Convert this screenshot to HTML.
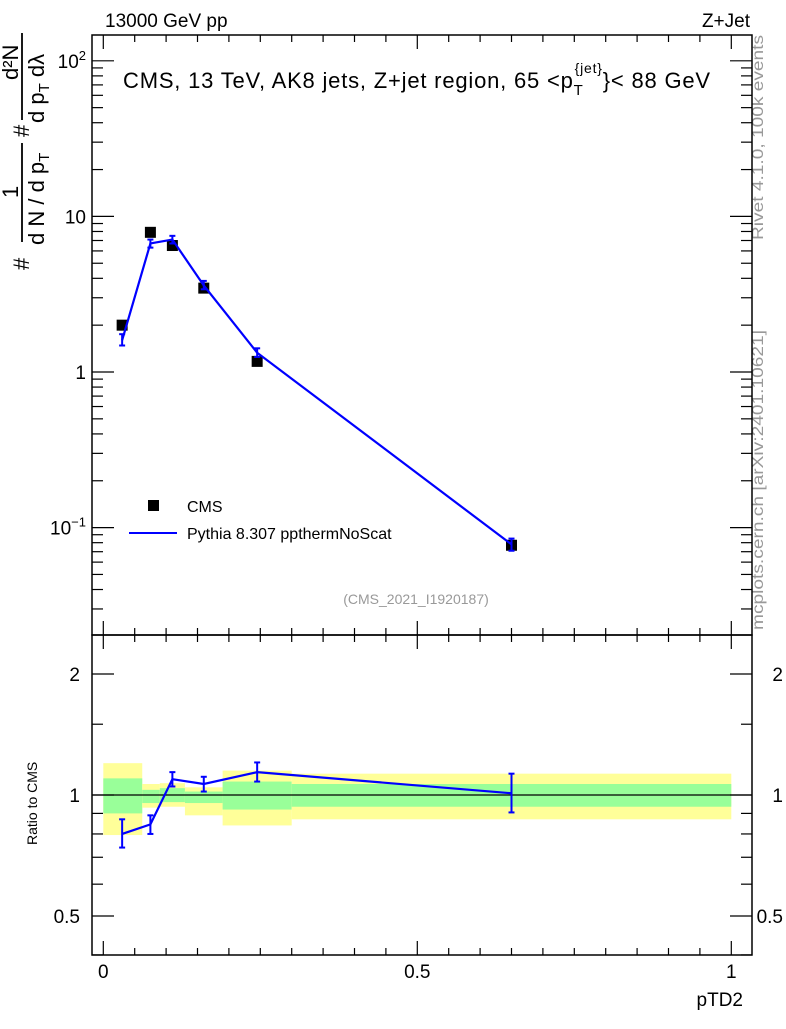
<!DOCTYPE html>
<html><head><meta charset="utf-8"><style>
body{margin:0;background:#fff}
svg{font-family:"Liberation Sans",sans-serif}
</style></head><body>
<svg id="c" width="786" height="1024" viewBox="0 0 786 1024" xmlns="http://www.w3.org/2000/svg">
<text x="105" y="27" font-size="19">13000 GeV pp</text>
<text x="750" y="27" font-size="19" text-anchor="end">Z+Jet</text>
<text x="123" y="88" font-size="22" letter-spacing="0.8">CMS, 13 TeV, AK8 jets, Z+jet region, 65 &lt;p<tspan font-size="15" dy="7">T</tspan><tspan font-size="14" dx="-9" dy="-22">{jet}</tspan><tspan dy="15">}&lt; 88 GeV</tspan></text>
<g font-size="22" transform="translate(0,270) rotate(-90)">
<text x="0" y="29">#</text>
<line x1="28" y1="22" x2="127" y2="22" stroke="#000" stroke-width="1.8"/>
<line x1="150" y1="22" x2="237" y2="22" stroke="#000" stroke-width="1.8"/>
<text x="72" y="18">1</text>
<text x="25" y="44">d N / d p<tspan font-size="15" dy="5">T</tspan></text>
<text x="133" y="29">#</text>
<text x="190" y="18">d²N</text>
<text x="147" y="44">d p<tspan font-size="15" dy="5">T</tspan><tspan dy="-5"> dλ</tspan></text>
</g>
<text transform="translate(763,240) rotate(-90)" font-size="16" fill="#999" textLength="205" lengthAdjust="spacingAndGlyphs">Rivet 4.1.0,  100k events</text>
<text transform="translate(763,630) rotate(-90)" font-size="16" fill="#999" textLength="300" lengthAdjust="spacingAndGlyphs">mcplots.cern.ch [arXiv:2401.10621]</text>
<text x="416" y="604" font-size="14" fill="#999" text-anchor="middle">(CMS_2021_I1920187)</text>
<g id="main"></g>
<g id="ratio"></g>
<g>
<rect x="148" y="500" width="11" height="11"/>
<text x="187" y="512" font-size="16">CMS</text>
<line x1="129" y1="533" x2="177" y2="533" stroke="#00f" stroke-width="2"/>
<text x="187" y="539" font-size="16">Pythia 8.307 ppthermNoScat</text>
</g>
<text transform="translate(37,845) rotate(-90)" font-size="14">Ratio to CMS</text>
<text x="743" y="1006" font-size="19" text-anchor="end">pTD2</text>
</svg>
<script>
const binEdges=[0,0.062,0.09,0.13,0.19,0.30,1.0];
const xPts=[0.03,0.075,0.11,0.16,0.245,0.65];
const cmsVals=[2.0,7.9,6.5,3.46,1.17,0.077];
const pyVals=[1.6,6.7,7.1,3.6,1.33,0.078];
const pyErrLo=[1.48,6.3,6.7,3.4,1.25,0.071];
const pyErrHi=[1.75,7.1,7.5,3.85,1.42,0.085];
const ratioVals=[0.80,0.845,1.095,1.065,1.14,1.01];
const ratioLo=[0.74,0.80,1.05,1.02,1.08,0.905];
const ratioHi=[0.87,0.89,1.14,1.11,1.205,1.13];
const yelLo=[0.795,0.93,0.935,0.89,0.84,0.87];
const yelHi=[1.20,1.065,1.07,1.045,1.15,1.13];
const grnLo=[0.90,0.955,0.96,0.955,0.92,0.935];
const grnHi=[1.10,1.03,1.04,1.02,1.08,1.065];
const xTicks=[0,0.5,1];
const xTickLabels=["0","0.5","1"];
const yDecades=[0.1,1,10,100];
const rTicks=[0.5,1,2];
const rTickLabels=["0.5","1","2"];

const NS="http://www.w3.org/2000/svg";
const L=92,R=752,T=35,MB=635,RB=955;
const X=v=>103.3+628*v;
const Y=v=>372-155.6*Math.log10(v);
const YR=v=>795-121*Math.log2(v);
function mk(p,tag,a){const e=document.createElementNS(NS,tag);for(const k in a)e.setAttribute(k,a[k]);p.appendChild(e);return e;}
const main=document.getElementById('main'),ratio=document.getElementById('ratio');

for(let i=0;i<binEdges.length-1;i++){
 let r=mk(ratio,'rect',{x:X(binEdges[i]),y:YR(yelHi[i]),width:X(binEdges[i+1])-X(binEdges[i]),height:YR(yelLo[i])-YR(yelHi[i]),fill:'#ffff99'});
 
 
 let g=mk(ratio,'rect',{x:X(binEdges[i]),y:YR(grnHi[i]),width:X(binEdges[i+1])-X(binEdges[i]),height:YR(grnLo[i])-YR(grnHi[i]),fill:'#99ff99'});
 
 
}
let ul=mk(ratio,'line',{x1:L,x2:R,y1:YR(1),y2:YR(1),stroke:'#000','stroke-width':1.3});



for(const [p,t,b] of [[main,T,MB],[ratio,MB,RB]]){
 let f=mk(p,'rect',{x:L,y:t,width:R-L,height:b-t,fill:'none',stroke:'#000','stroke-width':1.5});
 
 
}
for(let v=0;v<=1.0001;v+=0.05){
 const maj=Math.abs(v*2-Math.round(v*2))<1e-6, len=maj?14:7;
 for(const [t,b] of [[T,MB],[MB,RB]]){
  mk(main,'line',{x1:X(v),x2:X(v),y1:b,y2:b-len,stroke:'#000','stroke-width':1.2});
  mk(main,'line',{x1:X(v),x2:X(v),y1:t,y2:t+len,stroke:'#000','stroke-width':1.2});
 }
}
xTicks.forEach((v,i)=>{const t=mk(main,'text',{x:X(v),y:978,'font-size':19,'text-anchor':'middle'});t.textContent=xTickLabels[i];
 });
for(let d=0.01;d<=100;d*=10){for(let k=1;k<10;k++){const v=d*k,y=Y(v);if(y<T||y>MB)continue;const len=k==1?22:11;
 mk(main,'line',{x1:L,x2:L+len,y1:y,y2:y,stroke:'#000','stroke-width':1.2});
 mk(main,'line',{x1:R,x2:R-len,y1:y,y2:y,stroke:'#000','stroke-width':1.2});}}
yDecades.forEach(v=>{const y=Y(v);const t=mk(main,'text',{x:86,y:y+7,'font-size':19,'text-anchor':'end'});
 const e=Math.round(Math.log10(v));
 if(e==0)t.textContent='1';else if(e==1)t.textContent='10';else{t.textContent='10';const s=mk(t,'tspan',{dy:-8,'font-size':13});s.textContent=e==2?'2':'−1';}
 });
for(const v of [0.4,0.5,0.6,0.7,0.8,0.9,1,1.5,2]){const y=YR(v);if(y<MB||y>RB)continue;const len=[0.5,1,2].includes(v)?22:11;
 mk(ratio,'line',{x1:L,x2:L+len,y1:y,y2:y,stroke:'#000','stroke-width':1.2});
 mk(ratio,'line',{x1:R,x2:R-len,y1:y,y2:y,stroke:'#000','stroke-width':1.2});}
rTicks.forEach((v,i)=>{for(const [x,a] of [[80,'end'],[783,'end']]){const t=mk(ratio,'text',{x:x,y:YR(v)+7,'font-size':19,'text-anchor':a});t.textContent=rTickLabels[i];
 }});

xPts.forEach((x,i)=>{const r=mk(main,'rect',{x:X(x)-5.5,y:Y(cmsVals[i])-5.5,width:11,height:11,fill:'#000'});
 });
function series(p,vals,lo,hi,f,name){
 const pl=mk(p,'polyline',{points:xPts.map((x,i)=>X(x)+','+f(vals[i])).join(' '),fill:'none',stroke:'#00f','stroke-width':2.2});
 
 xPts.forEach((x,i)=>{const g=mk(p,'g',{stroke:'#00f','stroke-width':2});
  
  mk(g,'line',{x1:X(x),x2:X(x),y1:f(lo[i]),y2:f(hi[i])});
  mk(g,'line',{x1:X(x)-3,x2:X(x)+3,y1:f(lo[i]),y2:f(lo[i])});
  mk(g,'line',{x1:X(x)-3,x2:X(x)+3,y1:f(hi[i]),y2:f(hi[i])});});
}
series(main,pyVals,pyErrLo,pyErrHi,Y,'pythia');
series(ratio,ratioVals,ratioLo,ratioHi,YR,'ratio-pythia');
</script>
</body></html>
